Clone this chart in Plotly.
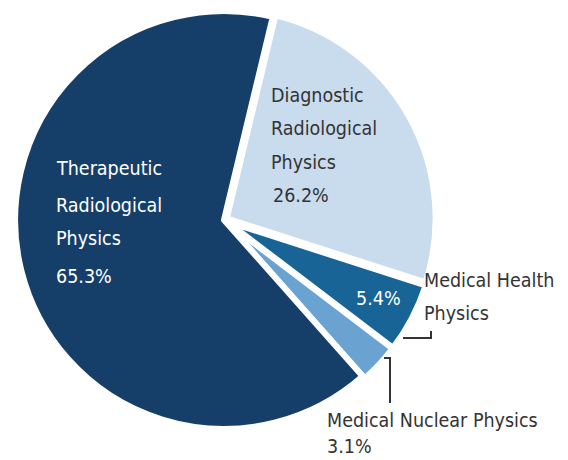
import plotly.graph_objects as go

labels = ["Diagnostic Radiological Physics", "Medical Health Physics",
          "Medical Nuclear Physics", "Therapeutic Radiological Physics"]
values = [26.2, 5.4, 3.1, 65.3]
colors = ["#c8dcee", "#186496", "#6aa3d2", "#153f69"]
pulls = [0.015, 0.015, 0.015, 0.0]

ther_lines = ["Therapeutic", "Radiological", "Physics", "65.3%"]
diag_lines = ["Diagnostic", "Radiological", "Physics", "26.2%"]
health_pct = "5.4%"
health_lines = ["Medical Health", "Physics"]
nuc_lines = ["Medical Nuclear Physics", "3.1%"]

W, H = 568, 460
OFF = 8  # page body margin offset
cx, cy, R = 216, 212, 212
fig = go.Figure(go.Pie(
    labels=labels, values=values, sort=False, direction="clockwise",
    rotation=13.5, pull=pulls, textinfo="none", hoverinfo="label+percent",
    marker=dict(colors=colors, line=dict(color="white", width=6)),
    domain=dict(x=[max(0, (cx - R) / W), min(1, (cx + R) / W)],
                y=[max(0, 1 - (cy + R) / H), min(1, 1 - (cy - R) / H)]),
    showlegend=False,
))

FONT = "DejaVu Sans Condensed"
anns = []
def add(text, x, y, color):
    anns.append(dict(text=text, x=(x - OFF - 3) / W, y=1 - (y - OFF) / H,
                     xref="paper", yref="paper",
                     xanchor="left", yanchor="middle", showarrow=False,
                     font=dict(family=FONT, size=19.5, color=color)))

for t, y in zip(ther_lines, [168, 205, 238, 276]):
    add(t, 57, y, "white")
for t, y, x in zip(diag_lines, [95, 129, 163, 195], [272, 272, 272, 274]):
    add(t, x, y, "#333333")
add(health_pct, 357, 298, "white")
for t, y in zip(health_lines, [280, 313]):
    add(t, 425, y, "#333333")
for t, y in zip(nuc_lines, [420, 446]):
    add(t, 328, y, "#333333")

def px(x):
    return (x - OFF) / W
def py(y):
    return 1 - (y - OFF) / H

shapes = [
    dict(type="path", path=f"M {px(403)} {py(338)} L {px(431)} {py(338)} L {px(431)} {py(331)}",
         xref="paper", yref="paper", line=dict(color="#333333", width=2)),
    dict(type="path", path=f"M {px(384)} {py(358)} L {px(390)} {py(358)} L {px(390)} {py(403)}",
         xref="paper", yref="paper", line=dict(color="#333333", width=2)),
]

fig.update_layout(width=W, height=H, margin=dict(l=0, r=0, t=0, b=0),
                  paper_bgcolor="white", plot_bgcolor="white",
                  annotations=anns, shapes=shapes)
fig.write_html("out.html")
